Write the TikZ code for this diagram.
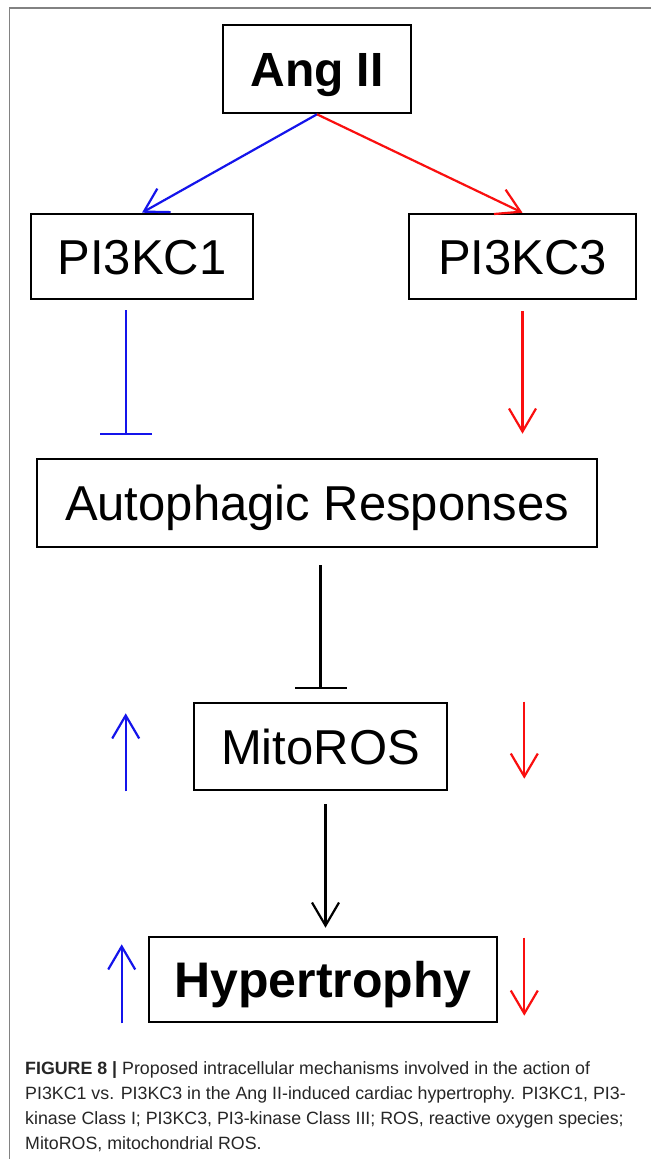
\documentclass[tikz,border=0pt]{standalone}
\usepackage{fontspec}
\setmainfont{Liberation Sans}
\usetikzlibrary{arrows.meta,calc}
\definecolor{myblue}{RGB}{20,20,235}
\definecolor{myred}{RGB}{250,15,15}
\definecolor{framegray}{RGB}{130,130,130}
\newcommand\fbig{\fontsize{49pt}{49pt}\selectfont}
\newcommand\fbigb{\fontsize{50pt}{50pt}\selectfont\bfseries}
\newcommand\fangb{\fontsize{48pt}{48pt}\selectfont\bfseries}
\newcommand\fcap{\fontsize{17.8pt}{20pt}\selectfont}
\tikzset{
  box/.style={draw=black, line width=2.6pt, inner sep=0pt, text height=35pt, text depth=0pt, align=center, fill=white},
  blc/.style={draw=myblue, line width=2.2pt},
  rdc/.style={draw=myred, line width=2.2pt},
  bkc/.style={draw=black, line width=2.2pt},
  arr/.style={-{Straight Barb[length=23pt,width=27pt]}},
  inh/.style={-{Bar[width=52pt]}},
  captxt/.style={font=\fcap, inner sep=0pt, anchor=base west, text=black!85}
}
\begin{document}
\begin{tikzpicture}[x=1pt,y=-1pt]
\useasboundingbox (0,0) rectangle (651,1159);
\fill[white] (0,0) rectangle (651,1159);
\draw[framegray, line width=1.3pt] (651,8) -- (9.5,8) -- (9.5,1159);

\node[box, minimum width=188pt, minimum height=88pt, font=\fangb] (ang) at (317,69) {Ang II};
\node[box, minimum width=222pt, minimum height=85pt, font=\fbig] (pa) at (142,256.5) {PI3KC1};
\node[box, minimum width=227pt, minimum height=85pt, font=\fbig] (pb) at (522.5,256.5) {PI3KC3};
\node[box, minimum width=560pt, minimum height=88pt, font=\fbig] (auto) at (317,503) {Autophagic Responses};
\node[box, minimum width=253pt, minimum height=87pt, font=\fbig] (mito) at (320.5,746.5) {MitoROS};
\node[box, minimum width=348pt, minimum height=85pt, font=\fbigb, text height=36pt] (hyp) at (323,979.5) {Hypertrophy};

% connectors
\draw[blc, arr] (ang.south) -- (pa.north);
\draw[rdc, arr] (ang.south) -- (pb.north);
\draw[blc, inh] ($(pa.south)+(-16,10)$) -- ($(pa.south |- auto.north)+(-16,-23)$);
\draw[rdc, arr] ($(pb.south)+(0,11)$) -- ($(pb.south |- auto.north)+(0,-24)$);
\draw[bkc, inh] ($(auto.south -| mito.north)+(0,17)$) -- ($(mito.north)+(0,-13)$);
\draw[bkc, arr] ($(mito.south)+(5,13)$) -- ($(mito.south |- hyp.north)+(5,-8)$);

% up / down indicators
\coordinate (mbl) at ($(mito.south west)+(-67,0)$);
\coordinate (mbh) at ($(mito.south west)+(-67,-78)$);
\coordinate (mrt) at ($(mito.north east)+(76,0)$);
\coordinate (mrb) at ($(mito.north east)+(76,77)$);
\coordinate (hbl) at ($(hyp.south west)+(-26,0)$);
\coordinate (hbh) at ($(hyp.south west)+(-26,-79)$);
\coordinate (hrt) at ($(hyp.north east)+(26,2)$);
\coordinate (hrb) at ($(hyp.north east)+(26,80)$);
\draw[blc, arr] (mbl) -- (mbh);
\draw[rdc, arr] (mrt) -- (mrb);
\draw[blc, arr] (hbl) -- (hbh);
\draw[rdc, arr] (hrt) -- (hrb);

% caption
\node[captxt] (c1) at (25,1074) {\textbf{FIGURE 8 |} Proposed intracellular mechanisms involved in the action of};
\node[captxt] (c2) at (25,1099) {PI3KC1 vs. PI3KC3 in the Ang II-induced cardiac hypertrophy. PI3KC1, PI3-};
\node[captxt] (c3) at (25,1124) {kinase Class I; PI3KC3, PI3-kinase Class III; ROS, reactive oxygen species;};
\node[captxt] (c4) at (25,1149) {MitoROS, mitochondrial ROS.};
\end{tikzpicture}
\end{document}
